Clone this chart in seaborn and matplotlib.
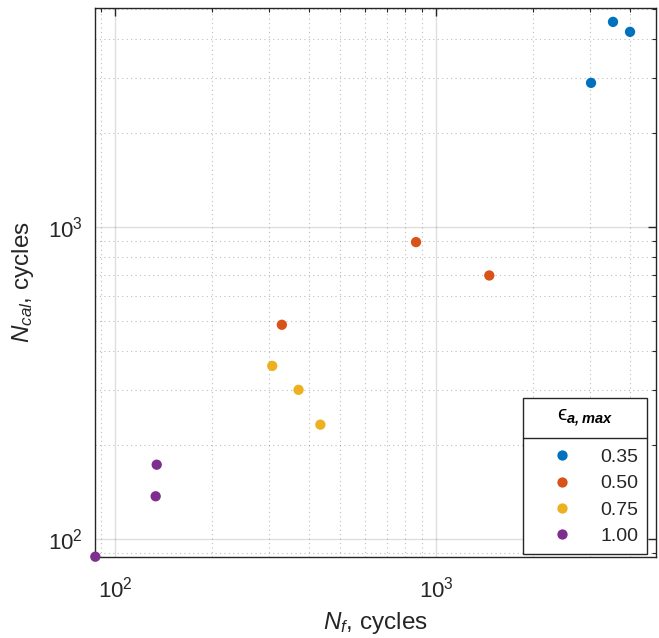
import matplotlib
matplotlib.use("Agg")
import matplotlib.pyplot as plt
import seaborn as sns
import pandas as pd
from matplotlib.ticker import LogLocator, LogFormatterSciNotation, NullFormatter
from matplotlib.lines import Line2D

# ---- data ----
Nf = [3031, 3548, 4009, 864, 1461, 330, 308, 372, 435, 134.5, 133.5, 86.6]
Ncal = [2894, 4540, 4218, 893, 698, 485, 358, 300, 232, 172.6, 136.7, 87.5]
strain = ["0.35", "0.35", "0.35", "0.50", "0.50", "0.50",
          "0.75", "0.75", "0.75", "1.00", "1.00", "1.00"]
levels = ["0.35", "0.50", "0.75", "1.00"]
colors = ["#0072BD", "#D95319", "#EDB120", "#7E2F8E"]

df = pd.DataFrame({"Nf": Nf, "Ncal": Ncal, "strain": strain})

sns.set_theme(style="white")
plt.rcParams["font.family"] = ["Liberation Sans", "DejaVu Sans"]
plt.rcParams["mathtext.fontset"] = "custom"
plt.rcParams["mathtext.rm"] = "Liberation Sans"
plt.rcParams["mathtext.it"] = "Liberation Sans:italic"
plt.rcParams["mathtext.bf"] = "Liberation Sans:bold:italic"

W, H = 659, 638
fig = plt.figure(figsize=(W / 100, H / 100), dpi=100)
ax = fig.add_axes([95 / W, 1 - 556.7 / H, 561 / W, 548.7 / H])

sns.scatterplot(data=df, x="Nf", y="Ncal", hue="strain", hue_order=levels,
                palette=colors, s=55, edgecolor="none", linewidth=0,
                ax=ax, zorder=3, clip_on=False)

ax.set_xscale("log")
ax.set_yscale("log")
ax.set_xlim(86.4, 4830)
ax.set_ylim(87.5, 5030)

for axis in (ax.xaxis, ax.yaxis):
    axis.set_major_locator(LogLocator(base=10))
    axis.set_minor_locator(LogLocator(base=10, subs=range(2, 10)))
    axis.set_major_formatter(LogFormatterSciNotation())
    axis.set_minor_formatter(NullFormatter())

ax.set_axisbelow(True)
ax.grid(which="major", color="#262626", alpha=0.15, linewidth=1.0, linestyle="-")
ax.grid(which="minor", color="#262626", alpha=0.3, linewidth=0.8, linestyle=(0, (1, 3)))

ax.tick_params(which="both", direction="in", top=True, right=True,
               color="#262626", labelcolor="#262626")
ax.tick_params(which="major", length=6, width=1.0, labelsize=16)
ax.tick_params(axis="x", which="major", pad=14)
ax.tick_params(axis="y", which="major", pad=9)
ax.tick_params(which="minor", length=3, width=0.8)
for sp in ax.spines.values():
    sp.set_color("#262626")
    sp.set_linewidth(1.0)

ax.set_xlabel(r"$N_{f}$, cycles", fontsize=17.5, color="#262626", labelpad=6)
ax.set_ylabel(r"$N_{cal}$, cycles", fontsize=17.5, color="#262626", labelpad=8)

handles, labels = ax.get_legend_handles_labels()
leg = ax.legend(handles, labels, title="\u03f5" + r"$_{\mathbf{a,max}}$",
                loc="lower right", bbox_to_anchor=(0.984, 0.005),
                borderaxespad=0, frameon=True, fancybox=False,
                edgecolor="#262626", framealpha=1, fontsize=14,
                title_fontsize=15, borderpad=0.45, handlelength=3.1,
                handletextpad=0.4, labelspacing=0.45, markerscale=1.0)
leg.get_frame().set_linewidth(1.0)
leg._legend_box.sep = 14
for t in leg.get_texts():
    t.set_color("#262626")
leg.get_title().set_color("#000000")

fig.canvas.draw()
bb = leg.get_window_extent()
ysep = bb.y1 - 40
fig.add_artist(Line2D([bb.x0 / W, bb.x1 / W], [ysep / H, ysep / H],
                      transform=fig.transFigure, color="#262626", linewidth=1.0))

fig.savefig("out.png", dpi=100)
